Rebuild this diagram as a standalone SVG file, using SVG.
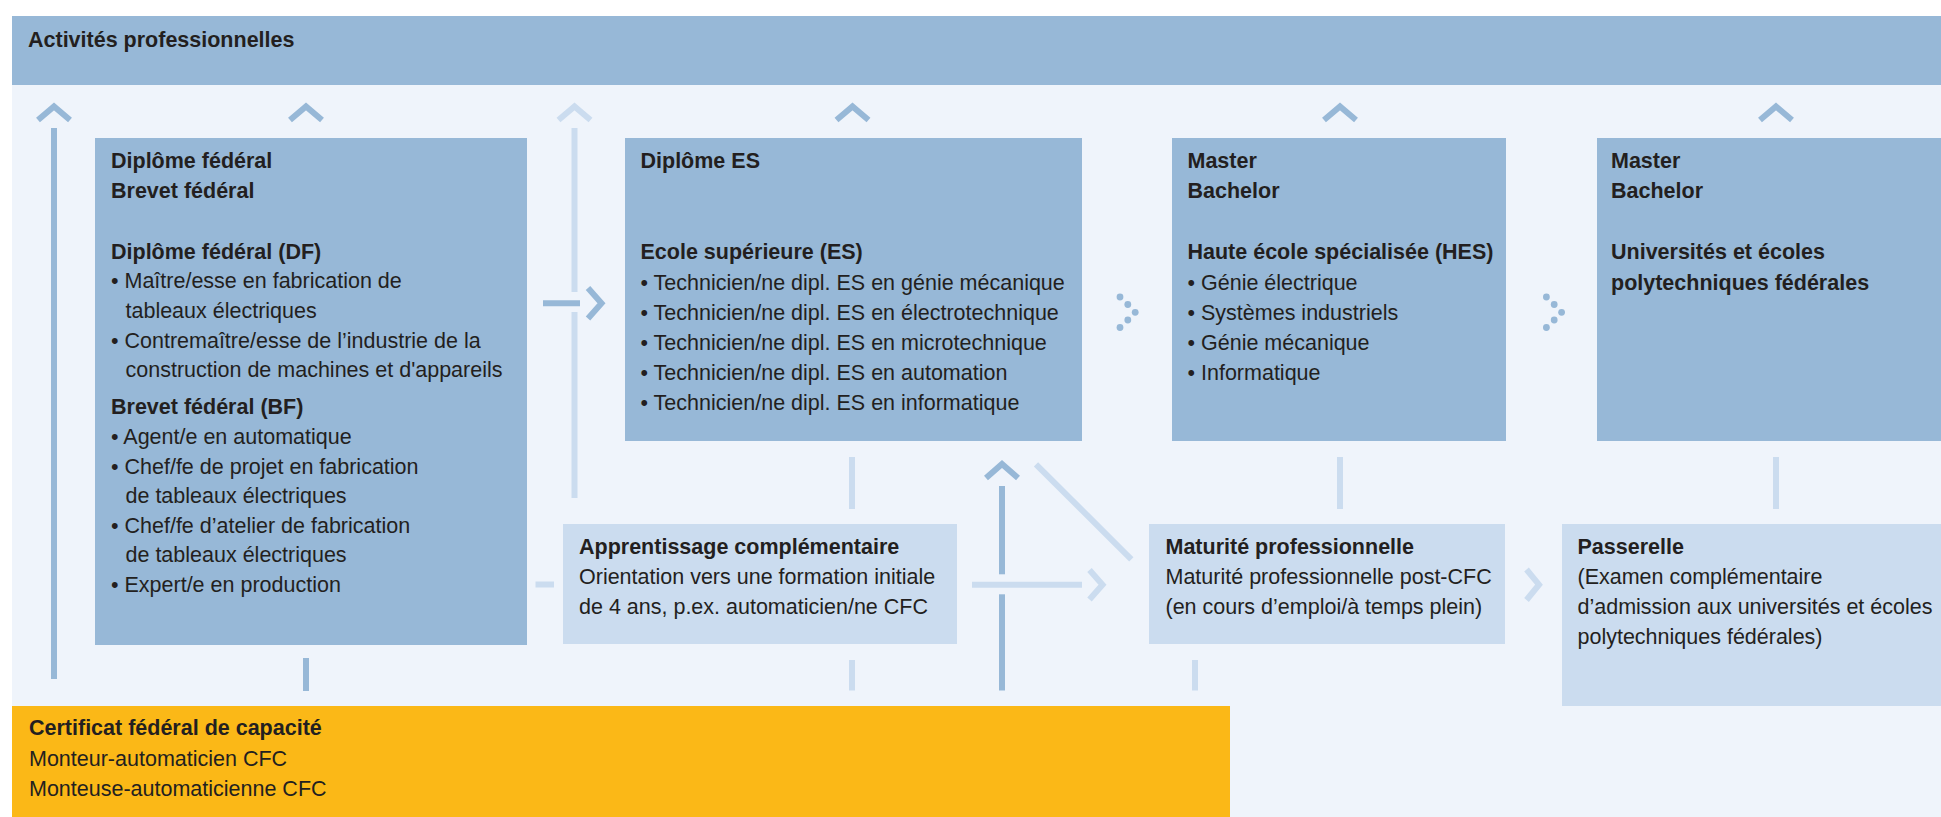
<svg xmlns="http://www.w3.org/2000/svg" width="1941" height="817" viewBox="0 0 1941 817">
<style>
.t{font-family:"Liberation Sans",Arial,sans-serif;font-size:21.5px;fill:#231f20}
.b{font-weight:bold}
.dk{fill:#97b8d7}
.lt{fill:#cbdcef}
.og{fill:#fbb817}
.sd{stroke:#97b8d7;stroke-width:6;fill:none;stroke-linejoin:miter}
.sl{stroke:#cbdcef;stroke-width:6;fill:none;stroke-linejoin:miter}
.dot{fill:#97b8d7}
</style>
<rect x="0" y="0" width="1941" height="817" fill="#ffffff"/>
<rect x="12" y="85" width="1929" height="732" fill="#eff4fb"/>

<g id="activites">
<rect class="dk" x="12" y="16" width="1929" height="69"/>
<text class="t b" x="28" y="47">Activités professionnelles</text>
</g>

<g id="connectors">
<!-- left line to activities -->
<line class="sd" x1="54" y1="128" x2="54" y2="679"/>
<polyline class="sd" points="38,120 54,106.5 70,120"/>
<!-- box1 up / down -->
<polyline class="sd" points="290,120 306,106.5 322,120"/>
<line class="sd" x1="306" y1="658" x2="306" y2="691"/>
<!-- light line left of ES -->
<polyline class="sl" points="558.5,120 574.5,106.5 590.5,120"/>
<line class="sl" x1="574.5" y1="128" x2="574.5" y2="292"/>
<line class="sl" x1="574.5" y1="312" x2="574.5" y2="498"/>
<!-- box1 -> ES -->
<line class="sd" x1="543" y1="303.3" x2="580" y2="303.3"/>
<polyline class="sd" points="588,288 601.5,303.3 588,318.5"/>
<!-- ES up -->
<polyline class="sd" points="836.5,120 852.5,106.5 868.5,120"/>
<!-- HES up, Univ up -->
<polyline class="sd" points="1324,120 1340,106.5 1356,120"/>
<polyline class="sd" points="1760,120 1776,106.5 1792,120"/>
<!-- dotted arrows -->
<circle class="dot" cx="1120" cy="297" r="3.4"/>
<circle class="dot" cx="1127.8" cy="304.5" r="3.4"/>
<circle class="dot" cx="1135.2" cy="312.3" r="3.4"/>
<circle class="dot" cx="1127.8" cy="320" r="3.4"/>
<circle class="dot" cx="1120" cy="327.5" r="3.4"/>
<circle class="dot" cx="1546.4" cy="297" r="3.4"/>
<circle class="dot" cx="1554.2" cy="304.5" r="3.4"/>
<circle class="dot" cx="1561.6" cy="312.3" r="3.4"/>
<circle class="dot" cx="1554.2" cy="320" r="3.4"/>
<circle class="dot" cx="1546.4" cy="327.5" r="3.4"/>
<!-- dash box1 - apprentissage -->
<line class="sl" x1="535.5" y1="584.5" x2="554" y2="584.5"/>
<!-- ticks -->
<line class="sl" x1="852" y1="457" x2="852" y2="509"/>
<line class="sl" x1="852" y1="660" x2="852" y2="690.5"/>
<line class="sl" x1="1195" y1="660" x2="1195" y2="690.5"/>
<line class="sl" x1="1340" y1="457" x2="1340" y2="509"/>
<line class="sl" x1="1776" y1="457" x2="1776" y2="509"/>
<!-- CFC up to ES (dark) -->
<line class="sd" x1="1002" y1="486" x2="1002" y2="574.3"/>
<line class="sd" x1="1002" y1="594.3" x2="1002" y2="690.5"/>
<polyline class="sd" points="986,478 1002,464 1018,478"/>
<!-- apprentissage -> maturite -->
<line class="sl" x1="972" y1="584.7" x2="1082" y2="584.7"/>
<polyline class="sl" points="1089.5,570 1102.5,584.7 1089.5,599.4"/>
<!-- diagonal ES -> maturite -->
<line class="sl" x1="1036" y1="464.3" x2="1131.3" y2="559.3"/>
<!-- maturite -> passerelle -->
<polyline class="sl" points="1526.5,569.5 1539,584.7 1526.5,600"/>
</g>

<g id="diplome-federal">
<rect class="dk" x="95" y="138" width="432" height="507"/>
<text class="t b" x="111" y="168">Diplôme fédéral</text>
<text class="t b" x="111" y="198">Brevet fédéral</text>
<text class="t b" x="111" y="258.5">Diplôme fédéral (DF)</text>
<text class="t" x="111" y="288">• Maître/esse en fabrication de</text>
<text class="t" x="125.5" y="318">tableaux électriques</text>
<text class="t" x="111" y="347.5">• Contremaître/esse de l’industrie de la</text>
<text class="t" x="125.5" y="377">construction de machines et d'appareils</text>
<text class="t b" x="111" y="414">Brevet fédéral (BF)</text>
<text class="t" x="111" y="444">• Agent/e en automatique</text>
<text class="t" x="111" y="473.5">• Chef/fe de projet en fabrication</text>
<text class="t" x="125.5" y="503">de tableaux électriques</text>
<text class="t" x="111" y="532.5">• Chef/fe d’atelier de fabrication</text>
<text class="t" x="125.5" y="562">de tableaux électriques</text>
<text class="t" x="111" y="591.5">• Expert/e en production</text>
</g>

<g id="diplome-es">
<rect class="dk" x="625" y="138" width="457" height="303"/>
<text class="t b" x="640.5" y="168">Diplôme ES</text>
<text class="t b" x="640.5" y="259">Ecole supérieure (ES)</text>
<text class="t" x="640.5" y="289.5">• Technicien/ne dipl. ES en génie mécanique</text>
<text class="t" x="640.5" y="319.5">• Technicien/ne dipl. ES en électrotechnique</text>
<text class="t" x="640.5" y="349.5">• Technicien/ne dipl. ES en microtechnique</text>
<text class="t" x="640.5" y="379.5">• Technicien/ne dipl. ES en automation</text>
<text class="t" x="640.5" y="409.5">• Technicien/ne dipl. ES en informatique</text>
</g>

<g id="hes">
<rect class="dk" x="1172" y="138" width="334" height="303"/>
<text class="t b" x="1187.5" y="168">Master</text>
<text class="t b" x="1187.5" y="198">Bachelor</text>
<text class="t b" x="1187.5" y="259">Haute école spécialisée (HES)</text>
<text class="t" x="1187.5" y="289.5">• Génie électrique</text>
<text class="t" x="1187.5" y="319.5">• Systèmes industriels</text>
<text class="t" x="1187.5" y="349.5">• Génie mécanique</text>
<text class="t" x="1187.5" y="379.5">• Informatique</text>
</g>

<g id="universites">
<rect class="dk" x="1597" y="138" width="344" height="303"/>
<text class="t b" x="1611" y="168">Master</text>
<text class="t b" x="1611" y="198">Bachelor</text>
<text class="t b" x="1611" y="259">Universités et écoles</text>
<text class="t b" x="1611" y="289.5">polytechniques fédérales</text>
</g>

<g id="apprentissage">
<rect class="lt" x="563" y="524" width="394" height="120"/>
<text class="t b" x="579" y="554">Apprentissage complémentaire</text>
<text class="t" x="579" y="584">Orientation vers une formation initiale</text>
<text class="t" x="579" y="614">de 4 ans, p.ex. automaticien/ne CFC</text>
</g>

<g id="maturite">
<rect class="lt" x="1149" y="524" width="356" height="120"/>
<text class="t b" x="1165.5" y="554">Maturité professionnelle</text>
<text class="t" x="1165.5" y="584">Maturité professionnelle post-CFC</text>
<text class="t" x="1165.5" y="614">(en cours d’emploi/à temps plein)</text>
</g>

<g id="passerelle">
<rect class="lt" x="1562" y="524" width="379" height="182"/>
<text class="t b" x="1577.5" y="554">Passerelle</text>
<text class="t" x="1577.5" y="584">(Examen complémentaire</text>
<text class="t" x="1577.5" y="614">d’admission aux universités et écoles</text>
<text class="t" x="1577.5" y="644">polytechniques fédérales)</text>
</g>

<g id="cfc">
<rect class="og" x="12" y="706" width="1218" height="111"/>
<text class="t b" x="29" y="735">Certificat fédéral de capacité</text>
<text class="t" x="29" y="766">Monteur-automaticien CFC</text>
<text class="t" x="29" y="796">Monteuse-automaticienne CFC</text>
</g>
</svg>
